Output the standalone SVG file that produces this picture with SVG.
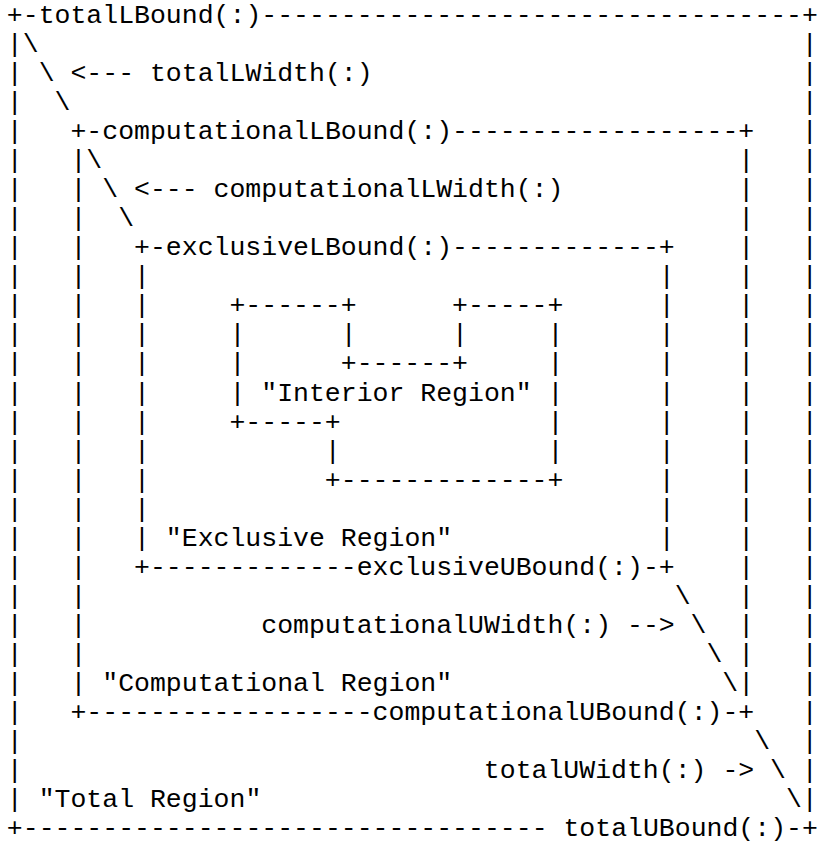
<svg xmlns="http://www.w3.org/2000/svg" width="817" height="843" viewBox="0 0 817 843">
<style>
.t{font-family:"Liberation Mono","Courier New",monospace;font-size:26.5px;fill:#000;white-space:pre}
</style>
<rect width="817" height="843" fill="#fff"/>
<g id="total-region" xml:space="preserve">
<text class="t"><tspan x="6.85" y="23">+-totalLBound(:)----------------------------------+</tspan><tspan x="6.85" y="52.04">|\</tspan><tspan x="6.85" y="81.08">| \ &lt;--- totalLWidth(:)</tspan><tspan x="6.85" y="110.12">|  \</tspan><tspan x="6.85" y="139.16">|</tspan><tspan x="6.85" y="168.2">|</tspan><tspan x="6.85" y="197.24">|</tspan><tspan x="6.85" y="226.28">|</tspan><tspan x="6.85" y="255.32">|</tspan><tspan x="6.85" y="284.36">|</tspan><tspan x="6.85" y="313.4">|</tspan><tspan x="6.85" y="342.44">|</tspan><tspan x="6.85" y="371.48">|</tspan><tspan x="6.85" y="400.52">|</tspan><tspan x="6.85" y="429.56">|</tspan><tspan x="6.85" y="458.6">|</tspan><tspan x="6.85" y="487.64">|</tspan><tspan x="6.85" y="516.68">|</tspan><tspan x="6.85" y="545.72">|</tspan><tspan x="6.85" y="574.76">|</tspan><tspan x="6.85" y="603.8">|</tspan><tspan x="6.85" y="632.84">|</tspan><tspan x="6.85" y="661.88">|</tspan><tspan x="6.85" y="690.92">|</tspan><tspan x="6.85" y="719.96">|</tspan><tspan x="6.85" y="749">|</tspan><tspan x="6.85" y="778.04">|</tspan><tspan x="6.85" y="807.08">| "Total Region"</tspan><tspan x="6.85" y="836.12">+--------------------------------- totalUBound(:)-+</tspan></text>
<text class="t"><tspan x="801.85" y="52.04">|</tspan><tspan x="801.85" y="81.08">|</tspan><tspan x="801.85" y="110.12">|</tspan><tspan x="801.85" y="139.16">|</tspan><tspan x="801.85" y="168.2">|</tspan><tspan x="801.85" y="197.24">|</tspan><tspan x="801.85" y="226.28">|</tspan><tspan x="801.85" y="255.32">|</tspan><tspan x="801.85" y="284.36">|</tspan><tspan x="801.85" y="313.4">|</tspan><tspan x="801.85" y="342.44">|</tspan><tspan x="801.85" y="371.48">|</tspan><tspan x="801.85" y="400.52">|</tspan><tspan x="801.85" y="429.56">|</tspan><tspan x="801.85" y="458.6">|</tspan><tspan x="801.85" y="487.64">|</tspan><tspan x="801.85" y="516.68">|</tspan><tspan x="801.85" y="545.72">|</tspan><tspan x="801.85" y="574.76">|</tspan><tspan x="801.85" y="603.8">|</tspan><tspan x="801.85" y="632.84">|</tspan><tspan x="801.85" y="661.88">|</tspan><tspan x="801.85" y="690.92">|</tspan><tspan x="801.85" y="719.96">|</tspan><tspan x="801.85" y="749">|</tspan><tspan x="801.85" y="778.04">|</tspan><tspan x="785.95" y="807.08">\|</tspan></text>
<text class="t"><tspan x="754.15" y="749">\</tspan><tspan x="483.85" y="778.04">totalUWidth(:) -&gt; \</tspan></text>
</g>
<g id="computational-region" xml:space="preserve">
<text class="t"><tspan x="70.45" y="139.16">+-computationalLBound(:)------------------+</tspan><tspan x="70.45" y="168.2">|\</tspan><tspan x="70.45" y="197.24">| \ &lt;--- computationalLWidth(:)</tspan><tspan x="70.45" y="226.28">|  \</tspan><tspan x="70.45" y="255.32">|</tspan><tspan x="70.45" y="284.36">|</tspan><tspan x="70.45" y="313.4">|</tspan><tspan x="70.45" y="342.44">|</tspan><tspan x="70.45" y="371.48">|</tspan><tspan x="70.45" y="400.52">|</tspan><tspan x="70.45" y="429.56">|</tspan><tspan x="70.45" y="458.6">|</tspan><tspan x="70.45" y="487.64">|</tspan><tspan x="70.45" y="516.68">|</tspan><tspan x="70.45" y="545.72">|</tspan><tspan x="70.45" y="574.76">|</tspan><tspan x="70.45" y="603.8">|</tspan><tspan x="70.45" y="632.84">|</tspan><tspan x="70.45" y="661.88">|</tspan><tspan x="70.45" y="690.92">| "Computational Region"</tspan><tspan x="70.45" y="719.96">+------------------computationalUBound(:)-+</tspan></text>
<text class="t"><tspan x="738.25" y="168.2">|</tspan><tspan x="738.25" y="197.24">|</tspan><tspan x="738.25" y="226.28">|</tspan><tspan x="738.25" y="255.32">|</tspan><tspan x="738.25" y="284.36">|</tspan><tspan x="738.25" y="313.4">|</tspan><tspan x="738.25" y="342.44">|</tspan><tspan x="738.25" y="371.48">|</tspan><tspan x="738.25" y="400.52">|</tspan><tspan x="738.25" y="429.56">|</tspan><tspan x="738.25" y="458.6">|</tspan><tspan x="738.25" y="487.64">|</tspan><tspan x="738.25" y="516.68">|</tspan><tspan x="738.25" y="545.72">|</tspan><tspan x="738.25" y="574.76">|</tspan><tspan x="738.25" y="603.8">|</tspan><tspan x="738.25" y="632.84">|</tspan><tspan x="738.25" y="661.88">|</tspan><tspan x="722.35" y="690.92">\|</tspan></text>
<text class="t"><tspan x="674.65" y="603.8">\</tspan><tspan x="261.25" y="632.84">computationalUWidth(:) --&gt; \</tspan><tspan x="706.45" y="661.88">\</tspan></text>
</g>
<g id="exclusive-region" xml:space="preserve">
<text class="t"><tspan x="134.05" y="255.32">+-exclusiveLBound(:)-------------+</tspan><tspan x="134.05" y="284.36">|</tspan><tspan x="134.05" y="313.4">|</tspan><tspan x="134.05" y="342.44">|</tspan><tspan x="134.05" y="371.48">|</tspan><tspan x="134.05" y="400.52">|</tspan><tspan x="134.05" y="429.56">|</tspan><tspan x="134.05" y="458.6">|</tspan><tspan x="134.05" y="487.64">|</tspan><tspan x="134.05" y="516.68">|</tspan><tspan x="134.05" y="545.72">| "Exclusive Region"</tspan><tspan x="134.05" y="574.76">+-------------exclusiveUBound(:)-+</tspan></text>
<text class="t"><tspan x="658.75" y="284.36">|</tspan><tspan x="658.75" y="313.4">|</tspan><tspan x="658.75" y="342.44">|</tspan><tspan x="658.75" y="371.48">|</tspan><tspan x="658.75" y="400.52">|</tspan><tspan x="658.75" y="429.56">|</tspan><tspan x="658.75" y="458.6">|</tspan><tspan x="658.75" y="487.64">|</tspan><tspan x="658.75" y="516.68">|</tspan><tspan x="658.75" y="545.72">|</tspan></text>
</g>
<g id="interior-region" xml:space="preserve">
<text class="t"><tspan x="229.45" y="313.4">+------+</tspan><tspan x="452.05" y="313.4">+-----+</tspan><tspan x="229.45" y="342.44">|</tspan><tspan x="340.75" y="342.44">|</tspan><tspan x="452.05" y="342.44">|</tspan><tspan x="547.45" y="342.44">|</tspan><tspan x="229.45" y="371.48">|</tspan><tspan x="340.75" y="371.48">+------+</tspan><tspan x="547.45" y="371.48">|</tspan><tspan x="229.45" y="400.52">| "Interior Region" |</tspan><tspan x="229.45" y="429.56">+-----+</tspan><tspan x="547.45" y="429.56">|</tspan><tspan x="324.85" y="458.6">|</tspan><tspan x="547.45" y="458.6">|</tspan><tspan x="324.85" y="487.64">+-------------+</tspan></text>
</g>
</svg>
